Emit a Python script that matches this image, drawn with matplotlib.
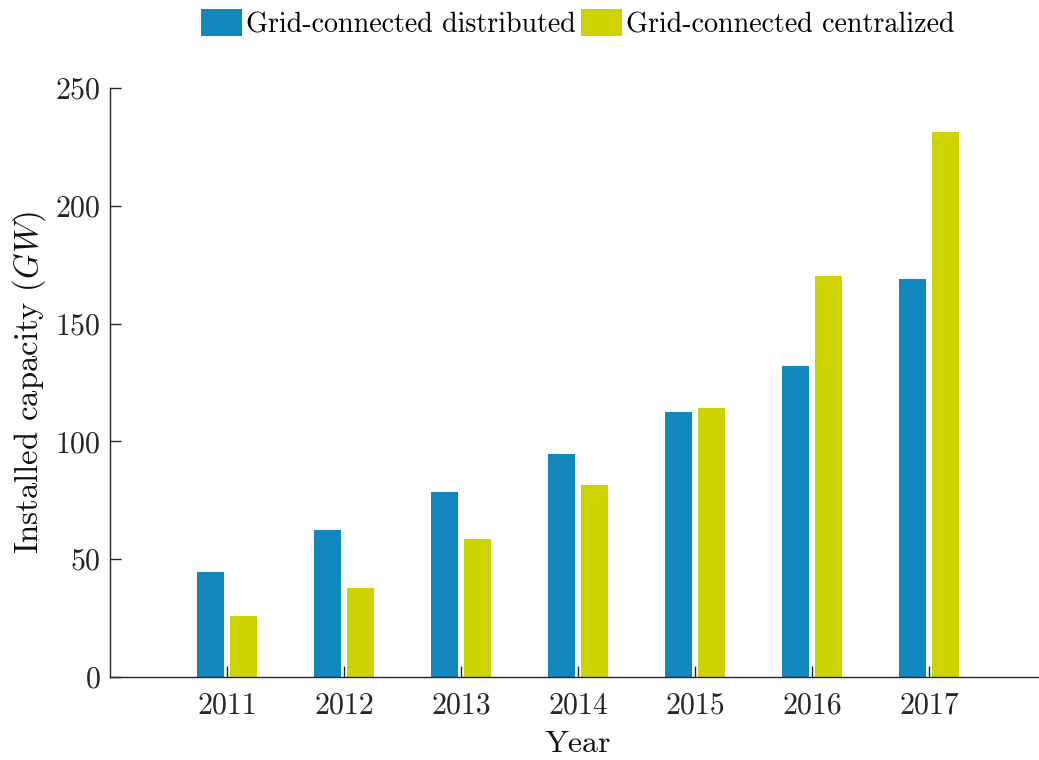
import numpy as np
import matplotlib.pyplot as plt
from matplotlib.patches import Patch

# Installed PV capacity by year (GW)
years = [2011, 2012, 2013, 2014, 2015, 2016, 2017]
distributed = [44.6, 62.4, 78.5, 94.6, 112.5, 132.0, 168.9]
centralized = [25.9, 37.8, 58.6, 81.5, 114.2, 170.2, 231.3]

c_dist = "#1187bd"
c_cent = "#ccd300"

plt.rcParams.update({
    'font.family': 'serif',
    'font.serif': ['cmr10'],
    'mathtext.fontset': 'cm',
    'axes.unicode_minus': False,
    'axes.formatter.use_mathtext': True,
    'font.size': 20,
})

fig = plt.figure(figsize=(10.39, 7.6), dpi=100)
ax = fig.add_axes([110/1039, 83/760, 936/1039, 589/760])

x = np.array(years, dtype=float)
w = 0.232
off = 0.141
ax.bar(x - off, distributed, width=w, color=c_dist, zorder=1)
ax.bar(x + off, centralized, width=w, color=c_cent, zorder=1)

ax.set_xlim(2010, 2018)
ax.set_ylim(0, 250)
ax.set_xticks(years)
ax.set_xticklabels([str(y) for y in years])
ax.set_yticks([0, 50, 100, 150, 200, 250])

for side in ('top', 'right'):
    ax.spines[side].set_visible(False)
for side in ('left', 'bottom'):
    ax.spines[side].set_color('#262626')
    ax.spines[side].set_linewidth(1.0)
    ax.spines[side].set_zorder(3)
ax.tick_params(axis='both', direction='in', length=8, width=1.0,
               color='#262626', labelcolor='#262626', labelsize=21.5, pad=7)
ax.tick_params(axis='x', pad=11)

ax.set_xlabel("Year", fontsize=23, color='#111111', labelpad=8)
ax.set_ylabel("Installed capacity ($GW$)", fontsize=23.5, color='#111111', labelpad=5)

handles = [Patch(facecolor=c_dist, label="Grid-connected distributed"),
           Patch(facecolor=c_cent, label="Grid-connected centralized")]
fig.legend(handles=handles, loc='center', bbox_to_anchor=(578/1039, 1 - 24/760),
           ncol=2, frameon=False, fontsize=20.2, handlelength=1.45, handleheight=1.1,
           handletextpad=0.15, columnspacing=0.2, borderpad=0)

fig.savefig("out.png", dpi=100)
